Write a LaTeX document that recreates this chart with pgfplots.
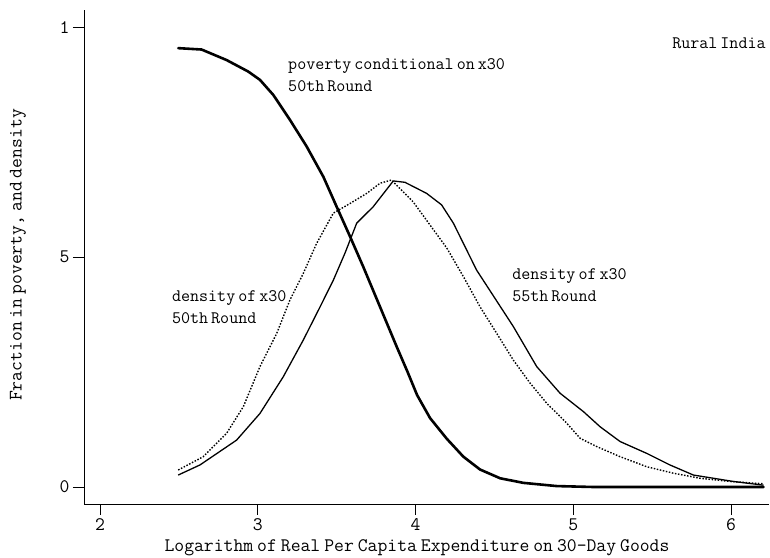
\documentclass[border=0pt]{standalone}
\usepackage{pgfplots}
\pgfplotsset{compat=1.18}
\newcommand{\annfont}{\ttfamily\fontsize{17.6}{22}\selectfont\spaceskip=3bp\relax}
\newcommand{\titfont}{\ttfamily\fontsize{19.2}{22}\selectfont\spaceskip=4bp\relax}
\begin{document}
\begin{tikzpicture}
\begin{axis}[at={(0,0)}, anchor=south west, scale only axis,
  width=685bp, height=494bp,
  xmin=1.899, xmax=6.24, ymin=-0.037, ymax=1.038,
  axis x line*=bottom, axis y line*=left,
  x axis line style={-, line width=0.8bp}, y axis line style={-, line width=0.8bp},
  tick align=outside, major tick length=11bp,
  tick style={black, line width=0.8bp},
  xtick={2,3,4,5,6}, xticklabels={2,3,4,5,6},
  ytick={0,0.5,1}, yticklabels={0,5,1},
  ticklabel style={font=\titfont},
  clip=false]
\addplot[black, line width=2.6bp, line join=round, line cap=round] coordinates {
(2.496,0.955) (2.644,0.952) (2.803,0.929) (2.940,0.904) (3.014,0.886) (3.099,0.853)
(3.204,0.799) (3.310,0.741) (3.416,0.675) (3.500,0.610) (3.585,0.545) (3.669,0.479)
(3.775,0.392) (3.881,0.305) (3.950,0.250) (4.010,0.200) (4.092,0.150) (4.198,0.105)
(4.303,0.066) (4.409,0.038) (4.536,0.019) (4.683,0.009) (4.895,0.002) (5.127,0.0)
(5.5,0) (6.0,0) (6.205,0)};
\addplot[black, line width=1.4bp, dash pattern=on 1.5bp off 1.6bp] coordinates {
(2.496,0.037) (2.655,0.066) (2.803,0.117) (2.909,0.175) (3.014,0.262) (3.120,0.334)
(3.204,0.407) (3.289,0.465) (3.373,0.530) (3.479,0.596) (3.585,0.617) (3.691,0.639)
(3.775,0.661) (3.848,0.668) (3.986,0.620) (4.092,0.570) (4.198,0.520) (4.303,0.458)
(4.409,0.392) (4.515,0.334) (4.620,0.276) (4.726,0.226) (4.832,0.182) (4.958,0.139)
(5.043,0.106) (5.148,0.088) (5.296,0.066) (5.466,0.044) (5.634,0.030) (5.803,0.019)
(5.994,0.012) (6.205,0.007)};
\addplot[black, line width=1.3bp, line join=round] coordinates {
(2.496,0.026) (2.634,0.048) (2.866,0.102) (3.014,0.160) (3.162,0.240) (3.289,0.320)
(3.395,0.392) (3.479,0.450) (3.553,0.509) (3.627,0.574) (3.732,0.610) (3.859,0.666)
(3.933,0.663) (4.070,0.639) (4.165,0.614) (4.240,0.574) (4.387,0.472) (4.620,0.349)
(4.768,0.262) (4.916,0.204) (5.064,0.164) (5.170,0.131) (5.296,0.099) (5.466,0.073)
(5.612,0.048) (5.761,0.026) (5.888,0.019) (6.015,0.012) (6.205,0.004)};
\node[anchor=west, align=left, font=\annfont, inner sep=0pt] at (axis cs:3.192,0.8955) {poverty conditional on x30\\50th Round};
\node[anchor=west, align=left, font=\annfont, inner sep=0pt] at (axis cs:5.626,0.966) {Rural India};
\node[anchor=west, align=left, font=\annfont, inner sep=0pt] at (axis cs:4.612,0.4385) {density of x30\\55th Round};
\node[anchor=west, align=left, font=\annfont, inner sep=0pt] at (axis cs:2.456,0.3906) {density of x30\\50th Round};
\end{axis}
\node[rotate=90, font=\titfont, inner sep=0pt] at (-66bp,249bp) {Fraction in poverty, and density};
\node[font=\titfont, inner sep=0pt] at (333bp,-44bp) {Logarithm of Real Per Capita Expenditure on 30-Day Goods};
\pgfresetboundingbox
\path[use as bounding box] (-84bp,-54bp) rectangle (686bp,504bp);
\end{tikzpicture}
\end{document}
